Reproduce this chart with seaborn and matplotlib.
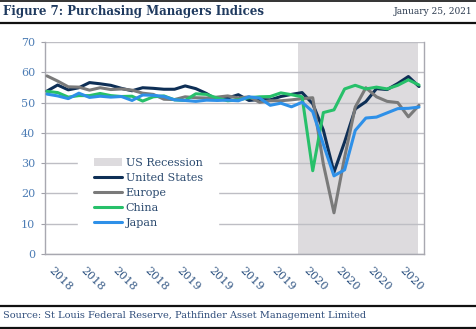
import matplotlib
matplotlib.use("Agg")
import matplotlib.pyplot as plt
from matplotlib.lines import Line2D
import seaborn as sns
import pandas as pd

# ---------------- data ----------------
months = ["2018-01", "2018-02", "2018-03", "2018-04", "2018-05", "2018-06",
          "2018-07", "2018-08", "2018-09", "2018-10", "2018-11", "2018-12",
          "2019-01", "2019-02", "2019-03", "2019-04", "2019-05", "2019-06",
          "2019-07", "2019-08", "2019-09", "2019-10", "2019-11", "2019-12",
          "2020-01", "2020-02", "2020-03", "2020-04", "2020-05", "2020-06",
          "2020-07", "2020-08", "2020-09", "2020-10", "2020-11", "2020-12"]

us = [53.8, 55.8, 54.2, 54.9, 56.6, 56.2, 55.7, 54.7, 53.9, 54.9, 54.7, 54.4,
      54.4, 55.5, 54.6, 53.0, 50.9, 51.5, 52.6, 50.7, 51.0, 50.9, 52.0, 52.7,
      53.3, 49.6, 40.9, 27.0, 37.0, 47.9, 50.3, 54.6, 54.3, 56.3, 58.6, 55.3]

europe = [58.8, 57.1, 55.2, 55.1, 54.1, 54.9, 54.3, 54.5, 54.1, 53.1, 52.7, 51.1,
          51.0, 51.9, 51.6, 51.5, 51.8, 52.2, 51.5, 51.9, 50.1, 50.6, 50.6, 50.9,
          51.3, 51.6, 29.7, 13.6, 31.9, 48.5, 54.9, 51.9, 50.4, 50.0, 45.3, 49.1]

china = [53.7, 53.3, 51.8, 52.3, 52.3, 53.0, 52.3, 52.0, 52.1, 50.5, 51.9, 52.2,
         50.9, 50.7, 52.9, 52.7, 51.5, 50.6, 50.9, 51.6, 51.9, 52.0, 53.2, 52.6,
         51.9, 27.5, 46.7, 47.6, 54.5, 55.7, 54.5, 55.1, 54.5, 55.7, 57.5, 55.8]

japan = [52.8, 52.2, 51.3, 53.1, 51.7, 52.1, 51.8, 52.0, 50.7, 52.5, 52.4, 52.0,
         50.9, 50.7, 50.4, 50.8, 50.7, 50.8, 50.6, 51.9, 51.5, 49.1, 49.8, 48.6,
         50.1, 47.0, 36.2, 25.8, 27.8, 40.8, 44.9, 45.2, 46.6, 48.0, 48.1, 48.5]

us_recession = [0, 0, 0, 0, 0, 0, 0, 0, 0, 0, 0, 0,
                0, 0, 0, 0, 0, 0, 0, 0, 0, 0, 0, 0,
                1, 1, 1, 1, 1, 1, 1, 1, 1, 1, 1, 1]

xtick_labels = ["2018", "2018", "2018", "2018", "2019", "2019",
                "2019", "2019", "2020", "2020", "2020", "2020"]
series_names = ["United States", "Europe", "China", "Japan"]
series_colors = ["#0E2F56", "#7A7A7A", "#27C06A", "#2E90E8"]

# ---------------- figure ----------------
sns.set_theme(style="white")
plt.rcParams["font.family"] = ["DejaVu Serif"]

W, H = 477, 329
fig = plt.figure(figsize=(W / 100, H / 100), dpi=100)
ax = fig.add_axes([45 / W, 1 - 254 / H, (424 - 45) / W, (254 - 42) / H])

idx = list(range(len(months)))
df = pd.DataFrame({"idx": idx, "United States": us, "Europe": europe,
                   "China": china, "Japan": japan})

# recession shading
rec_idx = [i for i, r in zip(idx, us_recession) if r]
ax.axvspan(rec_idx[0] - 0.4, rec_idx[-1] - 0.1, color="#DDDBDE", lw=0,
           label="US Recession", zorder=0)

for name, col in zip(series_names, series_colors):
    sns.lineplot(data=df, x="idx", y=name, ax=ax, color=col, linewidth=2.2,
                 label=name, zorder=3)

ax.set_xlim(-0.19, 35.47)
ax.set_ylim(0, 70)
ax.set_yticks(range(0, 71, 10))
ax.yaxis.grid(True, color="#BEBEC4", linewidth=1.0)
ax.set_axisbelow(True)
ax.set_xlabel("")
ax.set_ylabel("")

ax.set_xticks(idx[::3])
ax.set_xticklabels(xtick_labels, rotation=-45, ha="left", va="top",
                   fontsize=8, color="#2F5482")
ax.tick_params(axis="x", length=0, pad=8)
ax.tick_params(axis="y", length=3, width=0.8, color="#A0A0A8", pad=4,
               labelsize=8, labelcolor="#4D7DB5", left=True)

for s in ["left", "bottom", "right"]:
    ax.spines[s].set_visible(True)
    ax.spines[s].set_color("#A8A8B0")
    ax.spines[s].set_linewidth(1.0)
ax.spines["top"].set_visible(False)

handles, labels = ax.get_legend_handles_labels()
leg = ax.legend(handles, labels, loc="upper left",
                bbox_to_anchor=(78 / W, 1 - 142 / H), bbox_transform=fig.transFigure,
                borderaxespad=0, frameon=True, fancybox=False, framealpha=1,
                facecolor="white", edgecolor="white", fontsize=8,
                handlelength=2.6, handletextpad=0.3, labelspacing=0.45,
                borderpad=1.4)
for t in leg.get_texts():
    t.set_color("#2B4A6F")

# header / footer
fig.text(3 / W, 1 - 12 / H, "Figure 7: Purchasing Managers Indices",
         fontsize=8.5, fontweight="bold", color="#1F3A5F", va="center", ha="left")
fig.text(472 / W, 1 - 12 / H, "January 25, 2021", fontsize=6.5,
         color="#2B3A4F", va="center", ha="right")
fig.text(3 / W, 1 - 316 / H,
         "Source: St Louis Federal Reserve, Pathfinder Asset Management Limited",
         fontsize=7, color="#2E4C7A", va="center", ha="left")

for ypix, lw in [(0.7, 1.2), (22.5, 1.6), (305.5, 1.6), (327.5, 1.6)]:
    yy = 1 - ypix / H
    fig.add_artist(Line2D([0, 1], [yy, yy], transform=fig.transFigure,
                          color="#111111", linewidth=lw))

fig.savefig("out.png", dpi=100)
